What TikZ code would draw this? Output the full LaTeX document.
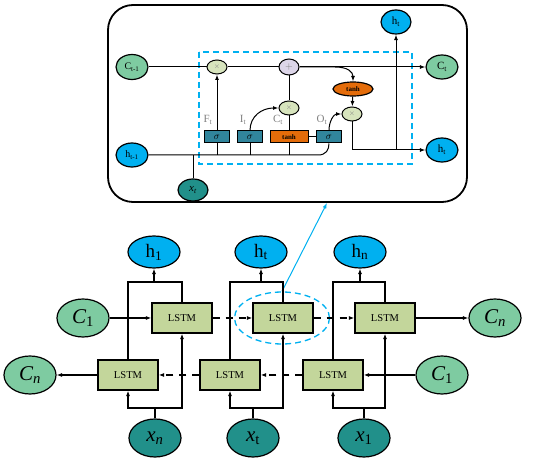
\documentclass[tikz,border=0pt]{standalone}
\usepackage{fontspec}
\setmainfont{Liberation Serif}
\usepackage{amsmath}
\usepackage{xcolor}
\usetikzlibrary{shapes.geometric,arrows.meta}

\definecolor{hblue}{HTML}{00B0F0}
\definecolor{cgreen}{HTML}{7ECBA1}
\definecolor{xteal}{HTML}{21908A}
\definecolor{lstmgreen}{HTML}{C3D69B}
\definecolor{sigteal}{HTML}{31859C}
\definecolor{tanhorange}{HTML}{E46C0A}
\definecolor{mulgreen}{HTML}{D7E4BD}
\definecolor{pluslav}{HTML}{DCD5E8}

\begin{document}
\begin{tikzpicture}[x=1pt, y=-1pt, >={Latex[length=5.5pt,width=4pt]},
    every node/.style={inner sep=0pt},
    oval/.style={draw, ellipse, line width=1.2pt},
    cellbox/.style={draw, line width=1.3pt, fill=lstmgreen, minimum width=60pt, minimum height=30pt, font=\fontsize{10.5}{10.5}\selectfont},
    gatebox/.style={draw, line width=1pt, fill=sigteal, minimum width=25pt, minimum height=12pt},
    opnode/.style={draw, ellipse, line width=1pt, fill=mulgreen, minimum width=20pt, minimum height=14pt, text=gray, font=\scriptsize},
    gatelabel/.style={text=gray, font=\fontsize{11}{11}\selectfont}]
    \useasboundingbox (0,0) rectangle (550,465);

    % ---- cell detail ----
    \draw[line width=1.8pt, rounded corners=25pt] (108,5) rectangle (467,202);
    \draw[hblue, line width=1.3pt, dash pattern=on 6pt off 4pt] (199,52) rectangle (412,164);

    \node[oval, fill=cgreen, minimum width=32pt, minimum height=25pt, font=\fontsize{10}{10}\selectfont] (cprev) at (132,67) {C\textsubscript{t-1}};
    \node[oval, fill=hblue, minimum width=32pt, minimum height=24pt, font=\fontsize{10}{10}\selectfont] (hprev) at (132,155) {h\textsubscript{t-1}};
    \node[oval, fill=xteal, minimum width=30pt, minimum height=22pt, font=\fontsize{11}{11}\selectfont] (xin) at (193,190) {\itshape x\textsubscript{t}};
    \node[oval, fill=cgreen, minimum width=32pt, minimum height=24pt, font=\fontsize{11}{11}\selectfont] (cnext) at (442,67) {C\textsubscript{t}};
    \node[oval, fill=hblue, minimum width=32pt, minimum height=24pt, font=\fontsize{11}{11}\selectfont] (hnext) at (442,150) {h\textsubscript{t}};
    \node[oval, fill=hblue, minimum width=30pt, minimum height=24pt, font=\fontsize{11}{11}\selectfont] (hup) at (396,22) {h\textsubscript{t}};

    \node[opnode] (mulf) at (217,67) {$\times$};
    \node[opnode, fill=pluslav, minimum height=16pt, font=\normalsize] (addc) at (289,67) {$+$};
    \node[opnode] (muli) at (289,108) {$\times$};
    \node[opnode] (mulo) at (352,114) {$\times$};
    \node[oval, fill=tanhorange, minimum width=40pt, minimum height=14pt, font=\fontsize{7}{7}\selectfont\bfseries] (tanhc) at (353,89) {tanh};

    \node[gatebox] (sigf) at (217,137) {$\sigma$};
    \node[gatebox] (sigi) at (250,137) {$\sigma$};
    \node[gatebox, fill=tanhorange, minimum width=38pt, font=\fontsize{7}{7}\selectfont\bfseries] (tanhb) at (289,137) {tanh};
    \node[gatebox] (sigo) at (329,137) {$\sigma$};

    \node[gatelabel] (lf) at (208,120) {F\textsubscript{t}};
    \node[gatelabel] (li) at (243,120) {I\textsubscript{t}};
    \node[gatelabel] (lc) at (278,120) {C\textsubscript{t}};
    \node[gatelabel] (lo) at (322,120) {O\textsubscript{t}};

    \begin{scope}[line width=1pt]
    \draw (cprev) -- (mulf) -- (addc);
    \draw[->] (addc) -- (cnext);
    \draw[->] (addc.east) -- (335,67) .. controls (348,67) and (353,72) .. (tanhc.north);
    \draw[->] (sigf) -- (mulf);
    \draw[->] (sigi.north) .. controls (250,116) and (262,108) .. (muli.west);
    \draw (tanhb) -- (muli) -- (addc);
    \draw (tanhb) -- (sigo);
    \draw[->] (sigo.north) .. controls (329,121) and (334,114) .. (mulo.west);
    \draw[->] (tanhc) -- (mulo);
    \draw[->] (mulo.south) |- (hnext);
    \draw[->] (hup |- hnext) -- (hup);
    \draw (hprev) -- (318,155) .. controls (326,155) and (329,150) .. (sigo.south);
    \draw (sigf.south) -- (sigf.south |- hprev);
    \draw (sigi.south) -- (sigi.south |- hprev);
    \draw (tanhb.south) -- (tanhb.south |- hprev);
    \draw (xin) -- (xin |- hprev);
    \end{scope}

    % ---- bidirectional layers ----
    \node[oval, fill=hblue, minimum width=52pt, minimum height=32pt, font=\fontsize{19}{19}\selectfont] (h1) at (154,252) {h\textsubscript{1}};
    \node[oval, fill=hblue, minimum width=52pt, minimum height=32pt, font=\fontsize{19}{19}\selectfont] (ht) at (261,252) {h\textsubscript{t}};
    \node[oval, fill=hblue, minimum width=52pt, minimum height=32pt, font=\fontsize{19}{19}\selectfont] (hn) at (360,252) {h\textsubscript{n}};

    \node[cellbox] (fwd1) at (182,318) {LSTM};
    \node[cellbox] (fwd2) at (283,318) {LSTM};
    \node[cellbox] (fwd3) at (385,318) {LSTM};
    \node[cellbox] (bwd1) at (128,375) {LSTM};
    \node[cellbox] (bwd2) at (230,375) {LSTM};
    \node[cellbox] (bwd3) at (333,375) {LSTM};

    \node[oval, fill=cgreen, minimum width=52pt, minimum height=38pt, font=\fontsize{21}{21}\selectfont] (cfirst) at (83,318) {\itshape C\textsubscript{\upshape 1}};
    \node[oval, fill=cgreen, minimum width=52pt, minimum height=38pt, font=\fontsize{21}{21}\selectfont] (clast) at (495,318) {\itshape C\textsubscript{n}};
    \node[oval, fill=cgreen, minimum width=52pt, minimum height=38pt, font=\fontsize{21}{21}\selectfont] (clastb) at (30,375) {\itshape C\textsubscript{n}};
    \node[oval, fill=cgreen, minimum width=52pt, minimum height=38pt, font=\fontsize{21}{21}\selectfont] (cfirstb) at (442,375) {\itshape C\textsubscript{\upshape 1}};

    \node[oval, fill=xteal, minimum width=52pt, minimum height=38pt, font=\fontsize{21}{21}\selectfont] (xn) at (155,438) {\itshape x\textsubscript{n}};
    \node[oval, fill=xteal, minimum width=52pt, minimum height=38pt, font=\fontsize{21}{21}\selectfont] (xt) at (253,438) {\itshape x\textsubscript{\upshape t}};
    \node[oval, fill=xteal, minimum width=52pt, minimum height=38pt, font=\fontsize{21}{21}\selectfont] (xone) at (364,438) {\itshape x\textsubscript{\upshape 1}};

    \node[draw=hblue, ellipse, line width=1.3pt, dash pattern=on 6pt off 4pt, minimum width=95pt, minimum height=52pt] (focus) at (282,318) {};
    \coordinate (cellin) at (327,203);
    \draw[hblue, line width=1pt, ->] (focus.north) -- (cellin);

    \begin{scope}[line width=1.4pt]
    \draw[->] (cfirst) -- (fwd1);
    \draw[->, dash pattern=on 7pt off 6pt] (fwd1) -- (fwd2);
    \draw[->, dash pattern=on 7pt off 6pt] (fwd2) -- (fwd3);
    \draw[->] (fwd3) -- (clast);
    \draw[->] (cfirstb) -- (bwd3);
    \draw[->, dash pattern=on 7pt off 6pt] (bwd3) -- (bwd2);
    \draw[->, dash pattern=on 7pt off 6pt] (bwd2) -- (bwd1);
    \draw[->] (bwd1) -- (clastb);

    % outputs
    \draw (bwd1.north) |- (h1.south |- 0,282) -| (fwd1.north);
    \draw[->] (h1.south |- 0,282) -- (h1);
    \draw (bwd2.north) |- (ht.south |- 0,282) -| (fwd2.north);
    \draw[->] (ht.south |- 0,282) -- (ht);
    \draw (bwd3.north) |- (hn.south |- 0,282) -| (fwd3.north);
    \draw[->] (hn.south |- 0,282) -- (hn);

    % inputs
    \draw[<->] (bwd1.south) |- (fwd1.south |- 0,408) -- (fwd1.south);
    \draw (xn) -- (xn |- 0,408);
    \draw[<->] (bwd2.south) |- (fwd2.south |- 0,408) -- (fwd2.south);
    \draw (xt) -- (xt |- 0,408);
    \draw[<->] (bwd3.south) |- (fwd3.south |- 0,408) -- (fwd3.south);
    \draw (xone) -- (xone |- 0,408);
    \end{scope}
\end{tikzpicture}
\end{document}
